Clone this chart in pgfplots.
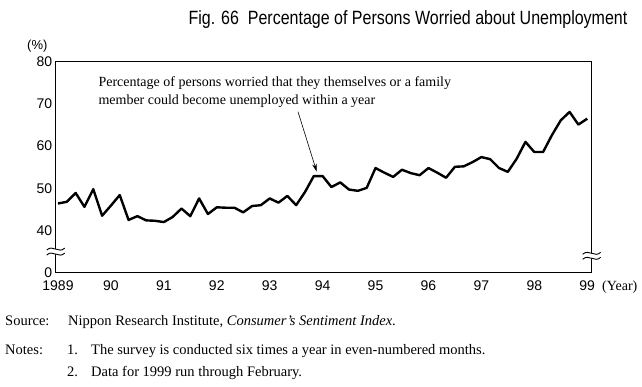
\documentclass[border=0pt]{standalone}
\usepackage{fontspec}
\setmainfont{Liberation Serif}
\setsansfont{Liberation Sans}
\usepackage{graphicx}
\usepackage{pgfplots}
\pgfplotsset{compat=1.18}
\usetikzlibrary{arrows.meta}
\begin{document}
\begin{tikzpicture}
\path[use as bounding box] (-55.7pt,-113.3pt) rectangle (586.3pt,272.7pt);
\begin{axis}[
  scale only axis,
  width=536pt, height=211pt,
  xmin=-0.26, xmax=60.51,
  ymin=30, ymax=80,
  axis line style={line width=1pt},
  xtick={0,6,...,60},
  xticklabels={1989,90,91,92,93,94,95,96,97,98,99},
  ytick={30,40,50,60,70,80},
  yticklabels={0,40,50,60,70,80},
  major tick length=0pt,
  tick label style={font=\sffamily\fontsize{14}{14}\selectfont},
  xticklabel style={yshift=-4pt},
  /pgf/number format/assume math mode=true,
  clip=false,
]
\addplot[black, line width=2.4pt, line join=round, mark=none] coordinates {
(0,46.4) (1,46.8) (2,48.9) (3,45.6) (4,49.8) (5,43.5) (6,45.9) (7,48.4)
(8,42.5) (9,43.4) (10,42.4) (11,42.3) (12,42.0) (13,43.2) (14,45.2) (15,43.4)
(16,47.6) (17,43.9) (18,45.5) (19,45.4) (20,45.4) (21,44.3) (22,45.8) (23,46.0)
(24,47.6) (25,46.6) (26,48.2) (27,46.0) (28,49.1) (29,52.9) (30,52.9) (31,50.3)
(32,51.4) (33,49.7) (34,49.4) (35,50.1) (36,54.8) (37,53.7) (38,52.7) (39,54.4)
(40,53.6) (41,53.1) (42,54.8) (43,53.7) (44,52.5) (45,55.1) (46,55.2) (47,56.2)
(48,57.4) (49,56.9) (50,54.8) (51,53.9) (52,57.0) (53,61.0) (54,58.6) (55,58.6)
(56,62.6) (57,66.1) (58,68.1) (59,65.1) (60,66.5)
};
\end{axis}
% axis breaks
\foreach \bx/\by in {0/21.1, 536/16.9} {
  \begin{scope}[shift={(\bx pt,\by pt)}]
    \fill[white] (-9pt,1.5pt) .. controls (-3pt,7.5pt) and (3pt,-2.5pt) .. (9pt,3.5pt)
      -- (9pt,-1.5pt) .. controls (3pt,-7.5pt) and (-3pt,2.5pt) .. (-9pt,-3.5pt) -- cycle;
    \draw[line width=0.9pt] (-9pt,1.5pt) .. controls (-3pt,7.5pt) and (3pt,-2.5pt) .. (9pt,3.5pt);
    \draw[line width=0.9pt] (-9pt,-3.5pt) .. controls (-3pt,2.5pt) and (3pt,-7.5pt) .. (9pt,-1.5pt);
  \end{scope}
}
% annotation
\node[anchor=base west, inner sep=0pt, font=\fontsize{14}{14}\selectfont] at (42.6pt,186.2pt)
  {Percentage of persons worried that they themselves or a family};
\node[anchor=base west, inner sep=0pt, font=\fontsize{14}{14}\selectfont] at (42.6pt,167.9pt)
  {member could become unemployed within a year};
\draw[line width=0.6pt, -{Stealth[length=8pt,width=4.5pt]}] (242.3pt,161pt) -- (261pt,101pt);
% title and labels
\node[anchor=base, inner sep=0pt, font=\sffamily\fontsize{16}{16}\selectfont] at (352.3pt,247.7pt)
  {\scalebox{1}[1.2]{Fig. 66\ \ Percentage of Persons Worried about Unemployment}};
\node[anchor=base west, inner sep=0pt, font=\sffamily\fontsize{13}{13}\selectfont] at (-28.7pt,222.7pt) {(\%)};
\node[anchor=base west, inner sep=0pt, font=\fontsize{14}{14}\selectfont] at (546.3pt,-17.8pt) {(Year)};
% source and notes
\node[anchor=base west, inner sep=0pt, font=\fontsize{14.5}{14.5}\selectfont] at (-50.7pt,-53pt) {Source:};
\node[anchor=base west, inner sep=0pt, font=\fontsize{14.5}{14.5}\selectfont] at (12.3pt,-53pt)
  {Nippon Research Institute, \textit{Consumer's Sentiment Index}.};
\node[anchor=base west, inner sep=0pt, font=\fontsize{14.5}{14.5}\selectfont] at (-50.7pt,-81.6pt) {Notes:};
\node[anchor=base west, inner sep=0pt, font=\fontsize{14.5}{14.5}\selectfont] at (11.3pt,-81.6pt) {1.};
\node[anchor=base west, inner sep=0pt, font=\fontsize{14.5}{14.5}\selectfont] at (35.3pt,-81.6pt)
  {The survey is conducted six times a year in even-numbered months.};
\node[anchor=base west, inner sep=0pt, font=\fontsize{14.5}{14.5}\selectfont] at (11.3pt,-103.3pt) {2.};
\node[anchor=base west, inner sep=0pt, font=\fontsize{14.5}{14.5}\selectfont] at (35.3pt,-103.3pt)
  {Data for 1999 run through February.};
\end{tikzpicture}
\end{document}
